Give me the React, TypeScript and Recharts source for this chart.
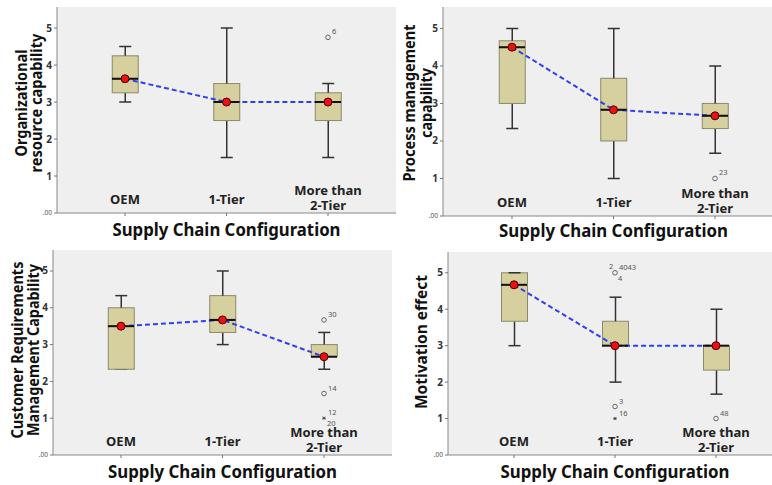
import {
  ComposedChart,
  Bar,
  Line,
  Scatter,
  XAxis,
  YAxis,
  CartesianGrid,
  Label,
} from 'recharts';

const categories = ['OEM', '1-Tier', 'More than 2-Tier'];
const categoryLines = [['OEM'], ['1-Tier'], ['More than', '2-Tier']];
const yTicks = [0, 1, 2, 3, 4, 5];
const xTitle = 'Supply Chain Configuration';

// Organizational resource capability
const orgMin = [3.0, 1.5, 1.5];
const orgQ1 = [3.25, 2.5, 2.5];
const orgMedian = [3.63, 3.0, 3.0];
const orgQ3 = [4.25, 3.5, 3.25];
const orgMax = [4.5, 5.0, 3.5];
const orgMean = [3.63, 3.0, 3.0];
const orgOutliers = [{ cat: 2, value: 4.75, mark: 'o', above: '6' }];

// Process management capability
const procMin = [2.33, 1.0, 1.67];
const procQ1 = [3.0, 2.0, 2.33];
const procMedian = [4.5, 2.83, 2.67];
const procQ3 = [4.67, 3.67, 3.0];
const procMax = [5.0, 5.0, 4.0];
const procMean = [4.5, 2.83, 2.67];
const procOutliers = [{ cat: 2, value: 1.0, mark: 'o', above: '23' }];

// Customer requirements management capability
const custMin = [2.33, 3.0, 2.33];
const custQ1 = [2.33, 3.33, 2.67];
const custMedian = [3.5, 3.67, 2.67];
const custQ3 = [4.0, 4.33, 3.0];
const custMax = [4.33, 5.0, 3.33];
const custMean = [3.5, 3.67, 2.67];
const custOutliers = [
  { cat: 2, value: 3.67, mark: 'o', above: '30' },
  { cat: 2, value: 1.67, mark: 'o', above: '14' },
  { cat: 2, value: 1.0, mark: '*', above: '12', below: '20' },
];

// Motivation effect
const motMin = [3.0, 2.0, 1.67];
const motQ1 = [3.67, 3.0, 2.33];
const motMedian = [4.67, 3.0, 3.0];
const motQ3 = [5.0, 3.67, 3.0];
const motMax = [5.0, 4.33, 4.0];
const motMean = [4.67, 3.0, 3.0];
const motOutliers = [
  { cat: 1, value: 5.0, mark: 'o', left: '2', above: '4043', below: '4' },
  { cat: 1, value: 1.33, mark: 'o', above: '3' },
  { cat: 1, value: 1.0, mark: '*', above: '16' },
  { cat: 2, value: 1.0, mark: 'o', above: '48' },
];

const Y_MAX = 5.57;
const BOX_W = 26;
const CAP = 6;
const FONT = '"Noto Sans", "Open Sans", sans-serif';
const PLOT_BG = '#efefef';
const BOX_FILL = '#d5d09d';
const BOX_STROKE = '#8a896d';
const WHISKER = '#333';

const buildRows = (
  min: number[],
  q1: number[],
  med: number[],
  q3: number[],
  max: number[],
  mean: number[],
  outliers: any[]
) =>
  categories.map((name, i) => ({
    name,
    base: min[i],
    lowWhisker: q1[i] - min[i],
    boxLow: med[i] - q1[i],
    boxHigh: q3[i] - med[i],
    highWhisker: max[i] - q3[i],
    median: med[i],
    mean: mean[i],
    outliers: outliers.filter((o) => o.cat === i),
  }));

const Empty = () => <g />;

const LowWhisker = (p: any) => {
  const cx = p.x + p.width / 2;
  const y2 = p.y + p.height;
  return (
    <g>
      <line x1={cx} x2={cx} y1={p.y} y2={y2} stroke={WHISKER} strokeWidth={1.5} />
      <line x1={cx - CAP} x2={cx + CAP} y1={y2} y2={y2} stroke={WHISKER} strokeWidth={1.5} />
    </g>
  );
};

const HighWhisker = (p: any) => {
  const cx = p.x + p.width / 2;
  return (
    <g>
      <line x1={cx} x2={cx} y1={p.y} y2={p.y + p.height} stroke={WHISKER} strokeWidth={1.5} />
      <line x1={cx - CAP} x2={cx + CAP} y1={p.y} y2={p.y} stroke={WHISKER} strokeWidth={1.5} />
    </g>
  );
};

const BoxPart = (p: any) => (
  <rect x={p.x} y={p.y} width={p.width} height={Math.max(p.height, 0)} fill={BOX_FILL} stroke={BOX_STROKE} strokeWidth={1} />
);

const MedianMark = (p: any) => (
  <line x1={p.cx - BOX_W / 2} x2={p.cx + BOX_W / 2} y1={p.cy} y2={p.cy} stroke="#111" strokeWidth={2} />
);

const MeanDot = (p: any) => (
  <circle key={`m${p.index}`} cx={p.cx} cy={p.cy} r={4} fill="#ee1111" stroke="#4a0000" strokeWidth={1} />
);

const makeOutlierShape = (k: number) => (p: any) => {
  const o = p.payload?.outliers?.[k];
  if (!o || !isFinite(p.cy)) return <g />;
  const { cx, cy } = p;
  const small = { fontSize: 7.5, fill: '#555', fontFamily: FONT };
  return (
    <g>
      {o.mark === 'o' ? (
        <circle cx={cx} cy={cy} r={2.3} fill="none" stroke="#666" strokeWidth={1} />
      ) : (
        <g stroke="#444" strokeWidth={0.9}>
          <line x1={cx - 1.8} x2={cx + 1.8} y1={cy} y2={cy} />
          <line x1={cx - 1.2} x2={cx + 1.2} y1={cy - 1.6} y2={cy + 1.6} />
          <line x1={cx + 1.2} x2={cx - 1.2} y1={cy - 1.6} y2={cy + 1.6} />
        </g>
      )}
      {o.left && (
        <text x={cx - 6} y={cy - 4} {...small}>
          {o.left}
        </text>
      )}
      {o.above && (
        <text x={cx + 4} y={cy - 3} {...small}>
          {o.above}
        </text>
      )}
      {o.below && (
        <text x={cx + 3} y={cy + 8} {...small}>
          {o.below}
        </text>
      )}
    </g>
  );
};

const outlierShapes = [0, 1, 2].map(makeOutlierShape);

const renderYTick = (p: any) => {
  const v = p.payload.value;
  if (v === 0) {
    return (
      <text x={p.x} y={p.y + 2} textAnchor="end" fontSize={6.5} fill="#555" fontFamily={FONT}>
        .00
      </text>
    );
  }
  return (
    <text x={p.x} y={p.y + 3.5} textAnchor="end" fontSize={10} fontWeight="bold" fill="#333" fontFamily={FONT}>
      {v}
    </text>
  );
};

const renderCategoryTick = (p: any) => {
  const idx = categories.indexOf(p.payload.value);
  const lines = categoryLines[idx] ?? [p.payload.value];
  const style = { fontSize: 13, fontWeight: 'bold' as const, fill: '#222', fontFamily: FONT };
  if (lines.length === 1) {
    return (
      <text x={p.x} y={p.y - 14} textAnchor="middle" {...style}>
        {lines[0]}
      </text>
    );
  }
  return (
    <g>
      <text x={p.x} y={p.y - 23} textAnchor="middle" {...style}>
        {lines[0]}
      </text>
      <text x={p.x} y={p.y - 8} textAnchor="middle" {...style}>
        {lines[1]}
      </text>
    </g>
  );
};

const panels = [
  {
    left: 0, top: 0, width: 398, height: 242, yAxisWidth: 57, marginTop: 7, marginRight: 2,
    xAxisHeight: 29, pad: 17.25, titleLines: ['Organizational', 'resource capability'],
    titleX: [26.5, 42], titleLen: [107, 139], titleCY: 103, xTitleDy: 23, xTitleLen: 228,
    rows: buildRows(orgMin, orgQ1, orgMedian, orgQ3, orgMax, orgMean, orgOutliers),
  },
  {
    left: 392, top: 0, width: 394, height: 242, yAxisWidth: 51, marginTop: 7, marginRight: 2,
    xAxisHeight: 26, pad: 18.25, titleLines: ['Process management', 'capability'],
    titleX: [23.3, 40], titleLen: [157, 70], titleCY: 103, xTitleDy: 21, xTitleLen: 229,
    rows: buildRows(procMin, procQ1, procMedian, procQ3, procMax, procMean, procOutliers),
  },
  {
    left: 0, top: 242, width: 394, height: 243, yAxisWidth: 53, marginTop: 8, marginRight: 2,
    xAxisHeight: 30, pad: 17.25, titleLines: ['Customer Requirements', 'Management Capability'],
    titleX: [22.7, 39.3], titleLen: [177, 172], titleCY: 108, xTitleDy: 23, xTitleLen: 229,
    rows: buildRows(custMin, custQ1, custMedian, custQ3, custMax, custMean, custOutliers),
  },
  {
    left: 392, top: 242, width: 394, height: 243, yAxisWidth: 56, marginTop: 10, marginRight: 4,
    xAxisHeight: 30, pad: 15.5, titleLines: ['Motivation effect'],
    titleX: [34.7], titleLen: [134], titleCY: 100, xTitleDy: 23, xTitleLen: 229,
    rows: buildRows(motMin, motQ1, motMedian, motQ3, motMax, motMean, motOutliers),
  },
];

const BoxPanel = ({ cfg }: { cfg: any }) => (
  <div style={{ position: 'absolute', left: cfg.left, top: cfg.top }}>
    <ComposedChart
      width={cfg.width}
      height={cfg.height}
      data={cfg.rows}
      margin={{ top: cfg.marginTop, right: cfg.marginRight, left: 0, bottom: 0 }}
    >
      <CartesianGrid fill={PLOT_BG} horizontal={false} vertical={false} />
      <XAxis
        dataKey="name"
        type="category"
        allowDuplicatedCategory={false}
        height={cfg.xAxisHeight}
        padding={{ left: cfg.pad, right: cfg.pad }}
        interval={0}
        tickSize={3}
        tickLine={{ stroke: '#777' }}
        axisLine={{ stroke: '#888' }}
        tick={renderCategoryTick}
      >
        <Label
          content={(p: any) => {
            const vb = p.viewBox;
            return (
              <text
                x={vb.x + vb.width / 2}
                y={vb.y + cfg.xTitleDy}
                textAnchor="middle"
                fontSize={18}
                fontWeight="bold"
                fill="#111"
                fontFamily={FONT}
                textLength={cfg.xTitleLen}
                lengthAdjust="spacingAndGlyphs"
              >
                {xTitle}
              </text>
            );
          }}
        />
      </XAxis>
      <XAxis
        xAxisId="top"
        orientation="top"
        dataKey="name"
        height={0}
        tick={false}
        tickLine={false}
        axisLine={{ stroke: '#aaa' }}
      />
      <YAxis
        type="number"
        width={cfg.yAxisWidth}
        domain={[0, Y_MAX]}
        ticks={yTicks}
        allowDataOverflow
        tickSize={3}
        tickLine={{ stroke: '#777' }}
        axisLine={{ stroke: '#888' }}
        tick={renderYTick}
      >
        <Label
          content={() => (
            <g>
              {cfg.titleLines.map((t: string, i: number) => (
                <text
                  key={t}
                  x={cfg.titleX[i]}
                  y={cfg.titleCY}
                  transform={`rotate(-90 ${cfg.titleX[i]} ${cfg.titleCY})`}
                  textAnchor="middle"
                  fontSize={16}
                  fontWeight="bold"
                  fill="#111"
                  fontFamily={FONT}
                  textLength={cfg.titleLen[i]}
                  lengthAdjust="spacingAndGlyphs"
                >
                  {t}
                </text>
              ))}
            </g>
          )}
        />
      </YAxis>
      <YAxis
        yAxisId="right"
        orientation="right"
        width={0}
        domain={[0, Y_MAX]}
        tick={false}
        tickLine={false}
        axisLine={{ stroke: '#aaa' }}
      />
      <Bar dataKey="base" stackId="box" barSize={BOX_W} shape={Empty} isAnimationActive={false} />
      <Bar dataKey="lowWhisker" stackId="box" barSize={BOX_W} shape={LowWhisker} isAnimationActive={false} />
      <Bar dataKey="boxLow" stackId="box" barSize={BOX_W} shape={BoxPart} isAnimationActive={false} />
      <Bar dataKey="boxHigh" stackId="box" barSize={BOX_W} shape={BoxPart} isAnimationActive={false} />
      <Bar dataKey="highWhisker" stackId="box" barSize={BOX_W} shape={HighWhisker} isAnimationActive={false} />
      <Scatter dataKey="median" shape={MedianMark} isAnimationActive={false} />
      {outlierShapes.map((shape, k) => (
        <Scatter
          key={`o${k}`}
          dataKey={(r: any) => r.outliers[k]?.value ?? null}
          shape={shape}
          isAnimationActive={false}
        />
      ))}
      <Line
        type="linear"
        dataKey="mean"
        stroke="#3040f0"
        strokeWidth={2}
        strokeDasharray="5 3"
        dot={MeanDot}
        activeDot={false}
        isAnimationActive={false}
      />
    </ComposedChart>
  </div>
);

export default function App() {
  return (
    <div
      style={{
        position: 'absolute',
        left: 0,
        top: 0,
        width: 772,
        height: 485,
        overflow: 'hidden',
        background: '#fff',
      }}
    >
      {panels.map((cfg, i) => (
        <BoxPanel key={i} cfg={cfg} />
      ))}
    </div>
  );
}
